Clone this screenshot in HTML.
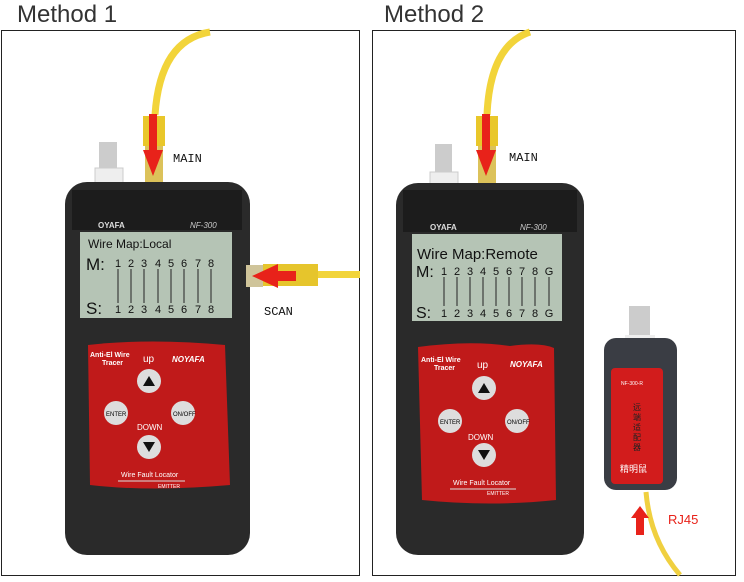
<!DOCTYPE html>
<html><head><meta charset="utf-8"><style>
body{margin:0;background:#fff;width:744px;height:582px;overflow:hidden}
svg{display:block}
</style></head><body>
<svg width="744" height="582" xmlns="http://www.w3.org/2000/svg" font-family="Liberation Sans, sans-serif">
<rect width="744" height="582" fill="#fff"/>
<text x="17" y="22" font-size="24" fill="#333">Method 1</text>
<text x="384" y="22" font-size="24" fill="#333">Method 2</text>
<rect x="1.5" y="30.5" width="358" height="545" fill="none" stroke="#222" stroke-width="1"/>
<rect x="372.5" y="30.5" width="363" height="545" fill="none" stroke="#222" stroke-width="1"/>

<!-- Device 1 -->
<g>
<path d="M210 32 Q160 40 155 115" stroke="#f2d43a" stroke-width="7" fill="none"/>
<rect x="143" y="116" width="22" height="30" fill="#e9c72a"/>
<rect x="145" y="146" width="18" height="37" fill="#dcc25a"/>
<rect x="99" y="142" width="18" height="32" fill="#ccc"/>
<rect x="95" y="168" width="28" height="16" fill="#eee" stroke="#ccc"/>
<rect x="65" y="182" width="185" height="373" rx="22" fill="#2a2a2a"/>
<rect x="72" y="190" width="170" height="40" fill="#1c1c1c"/>
<text x="98" y="228" font-size="8" fill="#ddd" font-weight="bold">OYAFA</text>
<text x="190" y="228" font-size="8" fill="#ccc" font-style="italic">NF-300</text>
<rect x="80" y="232" width="152" height="86" fill="#b5c4b5"/>
<text x="88" y="248" font-size="12" fill="#111">Wire Map:Local</text>
<text x="86" y="270" font-size="17" fill="#111">M:</text>
<text x="86" y="314" font-size="17" fill="#111">S:</text>
<g font-size="11" fill="#111" text-anchor="middle">
<text x="118" y="267">1</text><text x="131" y="267">2</text><text x="144" y="267">3</text><text x="158" y="267">4</text><text x="171" y="267">5</text><text x="184" y="267">6</text><text x="198" y="267">7</text><text x="211" y="267">8</text>
<text x="118" y="313">1</text><text x="131" y="313">2</text><text x="144" y="313">3</text><text x="158" y="313">4</text><text x="171" y="313">5</text><text x="184" y="313">6</text><text x="198" y="313">7</text><text x="211" y="313">8</text>
</g>
<g stroke="#222" stroke-width="1">
<line x1="118" y1="269" x2="118" y2="303"/><line x1="131" y1="269" x2="131" y2="303"/><line x1="144" y1="269" x2="144" y2="303"/><line x1="158" y1="269" x2="158" y2="303"/><line x1="171" y1="269" x2="171" y2="303"/><line x1="184" y1="269" x2="184" y2="303"/><line x1="198" y1="269" x2="198" y2="303"/><line x1="211" y1="269" x2="211" y2="303"/></g>
<path d="M88 345 Q150 338 225 345 L230 485 Q150 492 90 485 Z" fill="#c01a1a"/>
<text x="90" y="357" font-size="7" fill="#fff" font-weight="bold">Anti-El Wire</text>
<text x="102" y="365" font-size="7" fill="#fff" font-weight="bold">Tracer</text>
<text x="143" y="362" font-size="10" fill="#fff">up</text>
<text x="172" y="362" font-size="8" fill="#fff" font-weight="bold" font-style="italic">NOYAFA</text>
<circle cx="149" cy="381" r="12" fill="#ddd"/><path d="M143 386h12l-6-10z" fill="#111"/>
<circle cx="116" cy="413" r="12" fill="#ddd"/><text x="106" y="416" font-size="6">ENTER</text>
<circle cx="183" cy="413" r="12" fill="#ddd"/><text x="173" y="416" font-size="6">ON/OFF</text>
<text x="137" y="430" font-size="8" fill="#fff">DOWN</text>
<circle cx="149" cy="447" r="12" fill="#ddd"/><path d="M143 442h12l-6 10z" fill="#111"/>
<text x="121" y="477" font-size="7" fill="#fff">Wire Fault Locator</text>
<line x1="118" y1="481" x2="185" y2="481" stroke="#ddd"/>
<text x="158" y="488" font-size="5" fill="#fff">EMITTER</text>
<path d="M149 114h8v36h6l-10 26-10-26h6z" fill="#e8221a"/>
<text x="173" y="162" font-size="12" fill="#111" font-family="Liberation Mono, monospace">MAIN</text>
<rect x="246" y="265" width="17" height="22" fill="#cfc49a"/>
<rect x="263" y="264" width="55" height="22" fill="#e6c52c"/>
<rect x="318" y="271" width="42" height="7" fill="#f2d43a"/>
<path d="M252 276l26-12v7h18v10h-18v7z" fill="#e8221a"/>
<text x="264" y="315" font-size="12" fill="#111" font-family="Liberation Mono, monospace">SCAN</text>
</g>

<!-- Device 2 -->
<g>
<path d="M530 32 Q490 45 487 115" stroke="#f2d43a" stroke-width="7" fill="none"/>
<rect x="476" y="116" width="22" height="30" fill="#e9c72a"/>
<rect x="478" y="146" width="18" height="37" fill="#dcc25a"/>
<rect x="435" y="144" width="17" height="32" fill="#ccc"/>
<rect x="430" y="172" width="28" height="12" fill="#eee" stroke="#ccc"/>
<rect x="396" y="183" width="188" height="372" rx="22" fill="#2a2a2a"/>
<rect x="403" y="190" width="174" height="42" fill="#1c1c1c"/>
<text x="430" y="230" font-size="8" fill="#ddd" font-weight="bold">OYAFA</text>
<text x="520" y="230" font-size="8" fill="#ccc" font-style="italic">NF-300</text>
<rect x="412" y="234" width="150" height="87" fill="#b5c4b5"/>
<text x="417" y="259" font-size="15" fill="#111">Wire Map:Remote</text>
<text x="416" y="277" font-size="16" fill="#111">M:</text>
<text x="416" y="318" font-size="16" fill="#111">S:</text>
<g font-size="11" fill="#111" text-anchor="middle">
<text x="444" y="275">1</text><text x="457" y="275">2</text><text x="470" y="275">3</text><text x="483" y="275">4</text><text x="496" y="275">5</text><text x="509" y="275">6</text><text x="522" y="275">7</text><text x="535" y="275">8</text><text x="549" y="275">G</text>
<text x="444" y="317">1</text><text x="457" y="317">2</text><text x="470" y="317">3</text><text x="483" y="317">4</text><text x="496" y="317">5</text><text x="509" y="317">6</text><text x="522" y="317">7</text><text x="535" y="317">8</text><text x="549" y="317">G</text>
</g>
<g stroke="#222" stroke-width="1">
<line x1="444" y1="277" x2="444" y2="306"/><line x1="457" y1="277" x2="457" y2="306"/><line x1="470" y1="277" x2="470" y2="306"/><line x1="483" y1="277" x2="483" y2="306"/><line x1="496" y1="277" x2="496" y2="306"/><line x1="509" y1="277" x2="509" y2="306"/><line x1="522" y1="277" x2="522" y2="306"/><line x1="535" y1="277" x2="535" y2="306"/><line x1="549" y1="277" x2="549" y2="306"/></g>
<path d="M418 347 Q470 340 510 346 Q540 342 554 348 L556 500 Q490 507 422 500 Z" fill="#c01a1a"/>
<text x="421" y="362" font-size="7" fill="#fff" font-weight="bold">Anti-El Wire</text>
<text x="434" y="370" font-size="7" fill="#fff" font-weight="bold">Tracer</text>
<text x="477" y="368" font-size="10" fill="#fff">up</text>
<text x="510" y="367" font-size="8" fill="#fff" font-weight="bold" font-style="italic">NOYAFA</text>
<circle cx="484" cy="388" r="12" fill="#ddd"/><path d="M478 393h12l-6-10z" fill="#111"/>
<circle cx="450" cy="421" r="12" fill="#ddd"/><text x="440" y="424" font-size="6">ENTER</text>
<circle cx="517" cy="421" r="12" fill="#ddd"/><text x="507" y="424" font-size="6">ON/OFF</text>
<text x="468" y="440" font-size="8" fill="#fff">DOWN</text>
<circle cx="484" cy="455" r="12" fill="#ddd"/><path d="M478 450h12l-6 10z" fill="#111"/>
<text x="453" y="485" font-size="7" fill="#fff">Wire Fault Locator</text>
<line x1="450" y1="489" x2="516" y2="489" stroke="#ddd"/>
<text x="487" y="495" font-size="5" fill="#fff">EMITTER</text>
<path d="M482 114h8v36h6l-10 26-10-26h6z" fill="#e8221a"/>
<text x="509" y="161" font-size="12" fill="#111" font-family="Liberation Mono, monospace">MAIN</text>

<!-- remote -->
<rect x="629" y="306" width="21" height="32" fill="#ccc"/>
<rect x="625" y="335" width="30" height="10" fill="#eee"/>
<rect x="604" y="338" width="73" height="152" rx="12" fill="#3a3d44"/>
<rect x="611" y="368" width="52" height="116" rx="4" fill="#d21c1c"/>
<text x="621" y="385" font-size="5" fill="#fff">NF-300-R</text>
<g font-size="8" fill="#222" text-anchor="middle" font-family="Noto Sans CJK SC, sans-serif">
<text x="637" y="410">远</text><text x="637" y="420">端</text><text x="637" y="430">适</text><text x="637" y="440">配</text><text x="637" y="450">器</text></g>
<text x="620" y="472" font-size="9" fill="#fff" font-family="Noto Sans CJK SC, sans-serif">精明鼠</text>
<path d="M646 492 Q650 540 680 575" stroke="#f0d040" stroke-width="5" fill="none"/>
<path d="M636 535h8v-17h5l-9-12-9 12h5z" fill="#e8221a"/>
<text x="668" y="524" font-size="13" fill="#e8221a">RJ45</text>
</g>
</svg>
</body></html>
